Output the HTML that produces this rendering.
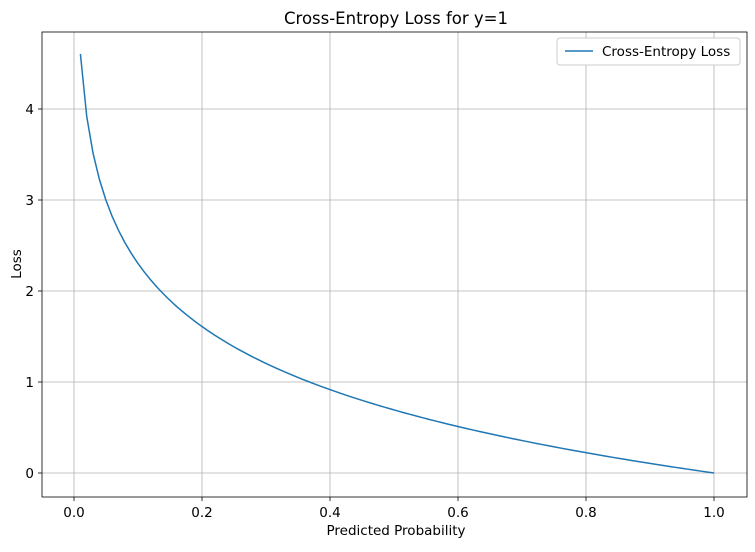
<!DOCTYPE html>
<html><head><meta charset="utf-8"><style>
body{margin:0;background:#fff}
svg{font-family:"DejaVu Sans","Liberation Sans",sans-serif}
</style></head><body>
<svg id="s" width="755" height="547" xmlns="http://www.w3.org/2000/svg">
<rect width="755" height="547" fill="#fff"/>
<g stroke="#b0b0b0" stroke-width="0.8">
<line x1="74" y1="32" x2="74" y2="497"/><line x1="202" y1="32" x2="202" y2="497"/><line x1="330" y1="32" x2="330" y2="497"/><line x1="458" y1="32" x2="458" y2="497"/><line x1="586" y1="32" x2="586" y2="497"/><line x1="714" y1="32" x2="714" y2="497"/>
<line x1="42" y1="473" x2="747" y2="473"/><line x1="42" y1="382" x2="747" y2="382"/><line x1="42" y1="291" x2="747" y2="291"/><line x1="42" y1="200" x2="747" y2="200"/><line x1="42" y1="109" x2="747" y2="109"/>
</g>
<path id="c" fill="none" stroke="#1f77b4" stroke-width="1.5"/>
<rect x="42" y="32" width="705" height="465" fill="none" stroke="#000" stroke-width="0.8"/>
<g stroke="#000" stroke-width="0.8">
<line x1="74" y1="497" x2="74" y2="501"/><line x1="202" y1="497" x2="202" y2="501"/><line x1="330" y1="497" x2="330" y2="501"/><line x1="458" y1="497" x2="458" y2="501"/><line x1="586" y1="497" x2="586" y2="501"/><line x1="714" y1="497" x2="714" y2="501"/>
<line x1="38" y1="473" x2="42" y2="473"/><line x1="38" y1="382" x2="42" y2="382"/><line x1="38" y1="291" x2="42" y2="291"/><line x1="38" y1="200" x2="42" y2="200"/><line x1="38" y1="109" x2="42" y2="109"/>
</g>
<g font-size="13.5" text-anchor="middle" fill="#000">
<text x="74" y="517">0.0</text><text x="202" y="517">0.2</text><text x="330" y="517">0.4</text><text x="458" y="517">0.6</text><text x="586" y="517">0.8</text><text x="714" y="517">1.0</text>
<text x="396" y="535">Predicted Probability</text>
<text x="396" y="24" font-size="16.5">Cross-Entropy Loss for y=1</text>
</g>
<g font-size="13.5" text-anchor="end">
<text x="34" y="478">0</text><text x="34" y="387">1</text><text x="34" y="296">2</text><text x="34" y="205">3</text><text x="34" y="114">4</text>
</g>
<text transform="translate(21,264) rotate(-90)" font-size="13.5" text-anchor="middle">Loss</text>
<rect x="557" y="38" width="183" height="27" fill="#fff" stroke="#ccc" rx="3"/>
<line x1="565" y1="51" x2="593" y2="51" stroke="#1f77b4" stroke-width="1.5"/>
<text x="602" y="56" font-size="13.5">Cross-Entropy Loss</text>
</svg>
<script>
var d="";for(var i=0;i<=100;i++){var p=0.01+i*0.0099;var x=74+640*p,y=473+91*Math.log(p);d+=(i?"L":"M")+x.toFixed(2)+","+y.toFixed(2);}
document.getElementById("c").setAttribute("d",d);
</script>
</body></html>
